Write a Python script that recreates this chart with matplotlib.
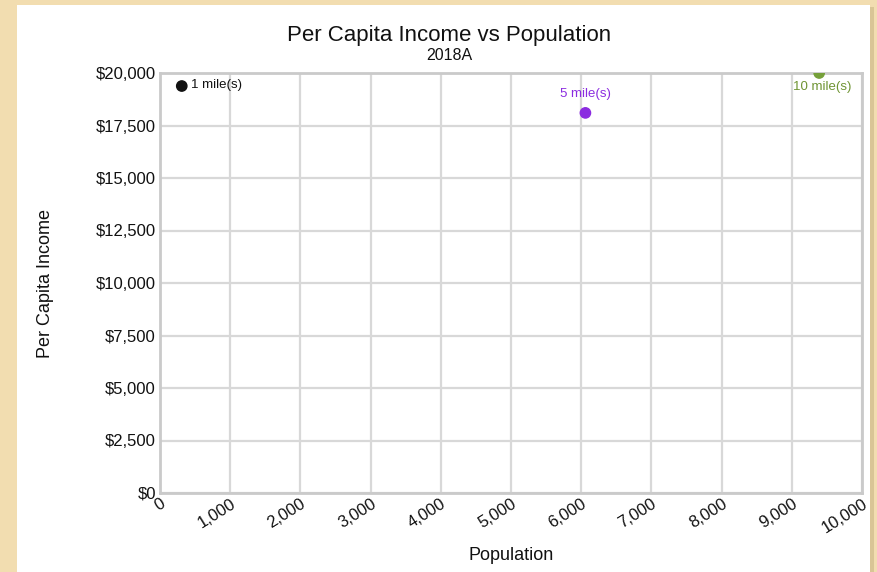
import matplotlib
matplotlib.use("Agg")
import matplotlib.pyplot as plt
from matplotlib.patches import Rectangle
from matplotlib.ticker import FuncFormatter, MultipleLocator

labels = ["1 mile(s)", "5 mile(s)", "10 mile(s)"]
population = [310, 6060, 9390]
income = [19380, 18100, 20000]
colors = ["#111111", "#8b2be0", "#76a03a"]
label_colors = ["#111111", "#8b2be0", "#6f9433"]

plt.rcParams['font.family'] = ['Liberation Sans', 'DejaVu Sans']

fig = plt.figure(figsize=(8.77, 5.72), dpi=100)
fig.patch.set_facecolor("#f2ddb0")

# white panel with subtle shadow
fig.patches.append(Rectangle((19/877, 0), 855/877, 1 - 7/572, transform=fig.transFigure,
                             facecolor="#d9c596", edgecolor="none", zorder=-3))
fig.patches.append(Rectangle((17/877, 0), 853/877, 1 - 5/572, transform=fig.transFigure,
                             facecolor="white", edgecolor="none", zorder=-2))

ax = fig.add_axes([160/877, 1 - 493/572, 702/877, 420/572])
ax.set_facecolor("white")
ax.set_xlim(0, 10000)
ax.set_ylim(0, 20000)
ax.xaxis.set_major_locator(MultipleLocator(1000))
ax.yaxis.set_major_locator(MultipleLocator(2500))
ax.xaxis.set_major_formatter(FuncFormatter(lambda v, p: f"{int(v):,}"))
ax.yaxis.set_major_formatter(FuncFormatter(lambda v, p: f"${int(v):,}"))
ax.grid(True, color="#d8d8d8", linewidth=1.6)
ax.set_axisbelow(True)
for s in ax.spines.values():
    s.set_color("#cacaca")
    s.set_linewidth(2)
ax.tick_params(length=0, labelsize=12, colors="#111111")
ax.tick_params(axis='y', pad=3)
ax.tick_params(axis='x', pad=2)
for t in ax.get_xticklabels():
    t.set_rotation(32)
    t.set_ha('right')
    t.set_va('top')
    t.set_rotation_mode('anchor')

ax.scatter(population, income, s=55, c=colors, zorder=3, clip_on=True)

ax.annotate(labels[0], (population[0], income[0]), xytext=(7, 1), textcoords="offset points",
            ha="left", va="center", fontsize=9.5, color=label_colors[0])
ax.annotate(labels[1], (population[1], income[1]), xytext=(0, 9), textcoords="offset points",
            ha="center", va="bottom", fontsize=9.5, color=label_colors[1])
ax.annotate(labels[2], (population[2], income[2]), xytext=(2, -6), textcoords="offset points",
            ha="center", va="top", fontsize=9.5, color=label_colors[2])

ax.set_xlabel("Population", fontsize=13, labelpad=8, color="#111111")
ax.set_ylabel("Per Capita Income", fontsize=13, labelpad=30, color="#111111")

fig.text(449/877, 1 - 35/572, "Per Capita Income vs Population", ha="center", va="center",
         fontsize=16, color="#111111")
fig.text(449/877, 1 - 56/572, "2018A", ha="center", va="center", fontsize=11.5, color="#111111")

fig.savefig("out.png", dpi=100, facecolor=fig.get_facecolor())
